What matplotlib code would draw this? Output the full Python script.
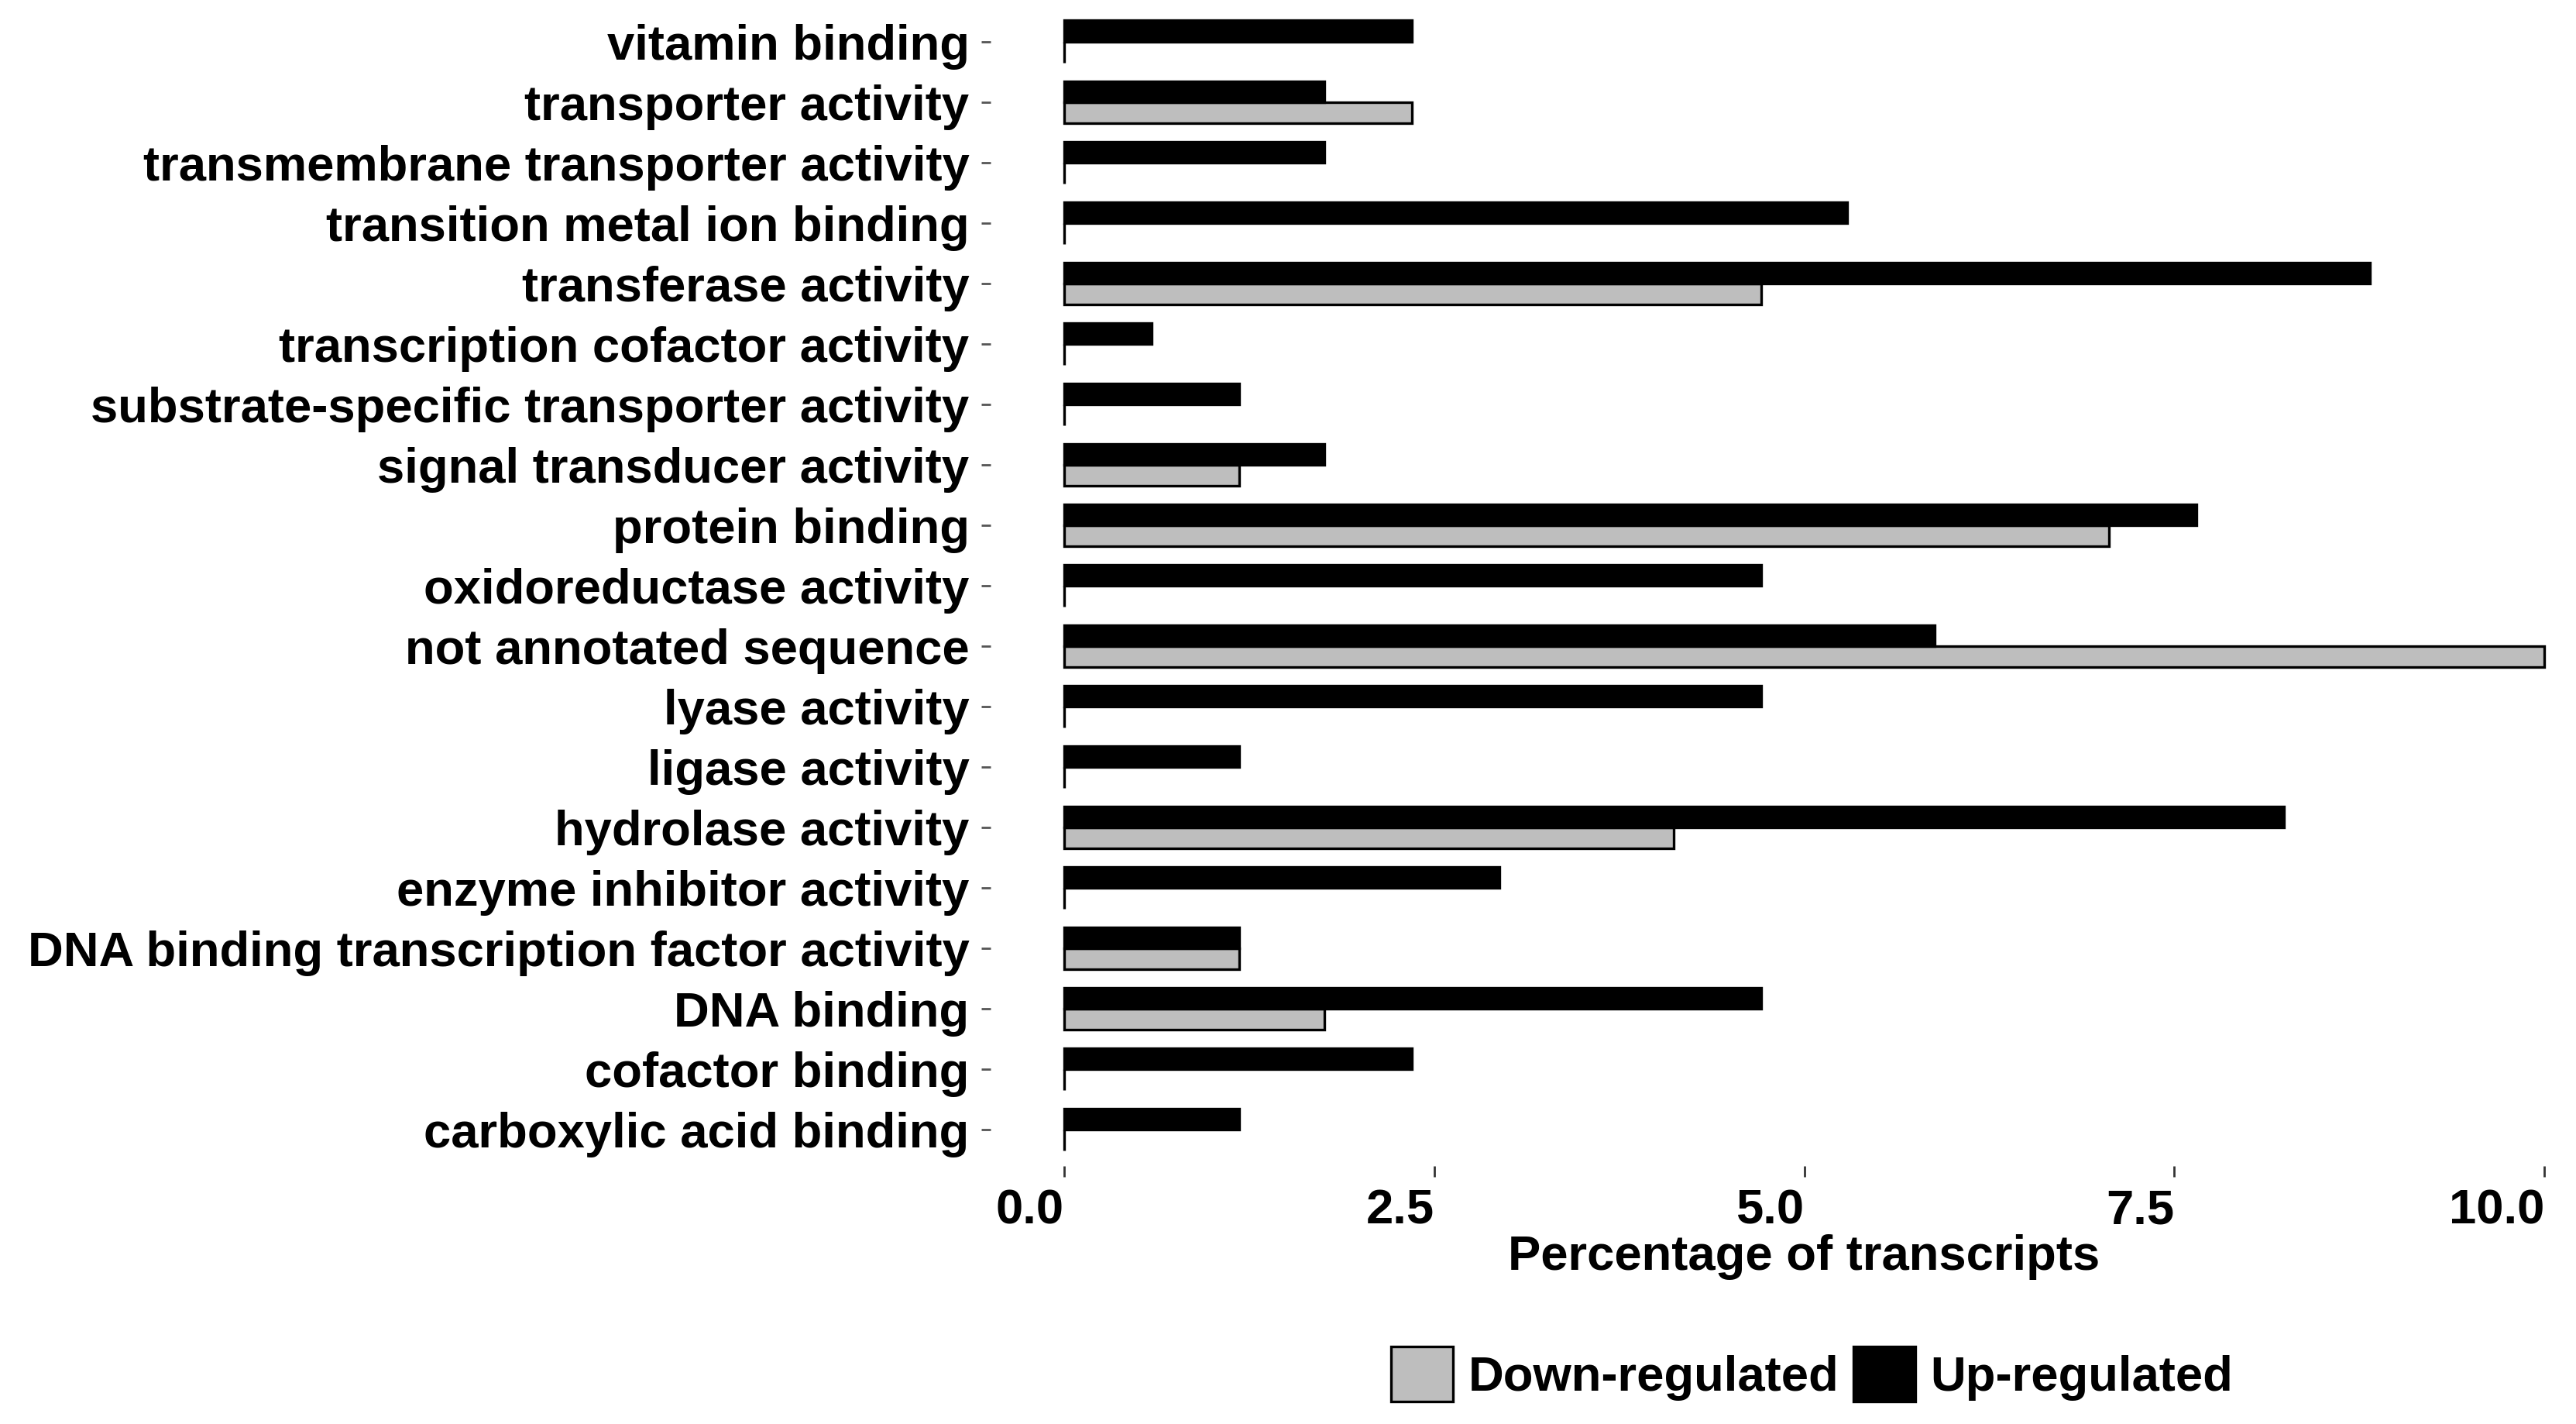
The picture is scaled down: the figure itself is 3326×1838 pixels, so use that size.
import numpy as np
import matplotlib
matplotlib.use('Agg')
import matplotlib.pyplot as plt
from matplotlib.patches import Patch

plt.rcParams['font.family'] = ['Liberation Sans Narrow', 'Liberation Sans', 'DejaVu Sans']
plt.rcParams['font.weight'] = 'bold'

# categories from bottom to top
categories = ['carboxylic acid binding', 'cofactor binding', 'DNA binding',
              'DNA binding transcription factor activity', 'enzyme inhibitor activity',
              'hydrolase activity', 'ligase activity', 'lyase activity',
              'not annotated sequence', 'oxidoreductase activity', 'protein binding',
              'signal transducer activity', 'substrate-specific transporter activity',
              'transcription cofactor activity', 'transferase activity',
              'transition metal ion binding', 'transmembrane transporter activity',
              'transporter activity', 'vitamin binding']
up_vals = [1.18, 2.35, 4.71, 1.18, 2.94, 8.24, 1.18, 4.71, 5.88, 4.71, 7.65,
           1.76, 1.18, 0.59, 8.82, 5.29, 1.76, 1.76, 2.35]
down_vals = [0, 0, 1.76, 1.18, 0, 4.12, 0, 0, 10.0, 0, 7.06,
             1.18, 0, 0, 4.71, 0, 0, 2.35, 0]
xticks = [0.0, 2.5, 5.0, 7.5, 10.0]

fs = 22.8
fig = plt.figure(figsize=(16.63, 9.19), dpi=200)
ax = fig.add_axes([0.3844, 0.1812, 0.632, 0.815])

y = np.arange(len(categories))
h = 0.35
ax.barh(y - h/2, down_vals, height=h, color='#BEBEBE', edgecolor='black', linewidth=1.2)
ax.barh(y + h/2, up_vals, height=h, color='black', edgecolor='black', linewidth=1.2)

ax.set_xlim(-0.5, 10.5)
ax.set_ylim(-0.6, len(categories) - 0.4)
ax.set_yticks(y)
ax.set_yticklabels(categories, fontsize=fs, fontweight='bold')
ax.set_xticks(xticks)
ax.set_xticklabels([f'{t:.1f}' for t in xticks], fontsize=fs, fontweight='bold', ha='right')
ax.tick_params(axis='y', length=4.3, width=1, color='#555555', pad=5.4)
ax.tick_params(axis='x', length=5, width=1, color='#333333', pad=5.4)
ax.set_xlabel('Percentage of transcripts', fontsize=fs, fontweight='bold', labelpad=0)
for s in ax.spines.values():
    s.set_visible(False)

handles = [Patch(facecolor='#BEBEBE', edgecolor='black', linewidth=1.2, label='Down-regulated'),
           Patch(facecolor='black', edgecolor='black', linewidth=1.2, label='Up-regulated')]
fig.legend(handles=handles, loc='center', bbox_to_anchor=(0.7034, 0.035), ncol=2,
           frameon=False, prop={'size': fs, 'weight': 'bold'},
           handlelength=1.27, handleheight=1.36, handletextpad=0.3, columnspacing=0.3)

fig.savefig('out.png', dpi=200)
